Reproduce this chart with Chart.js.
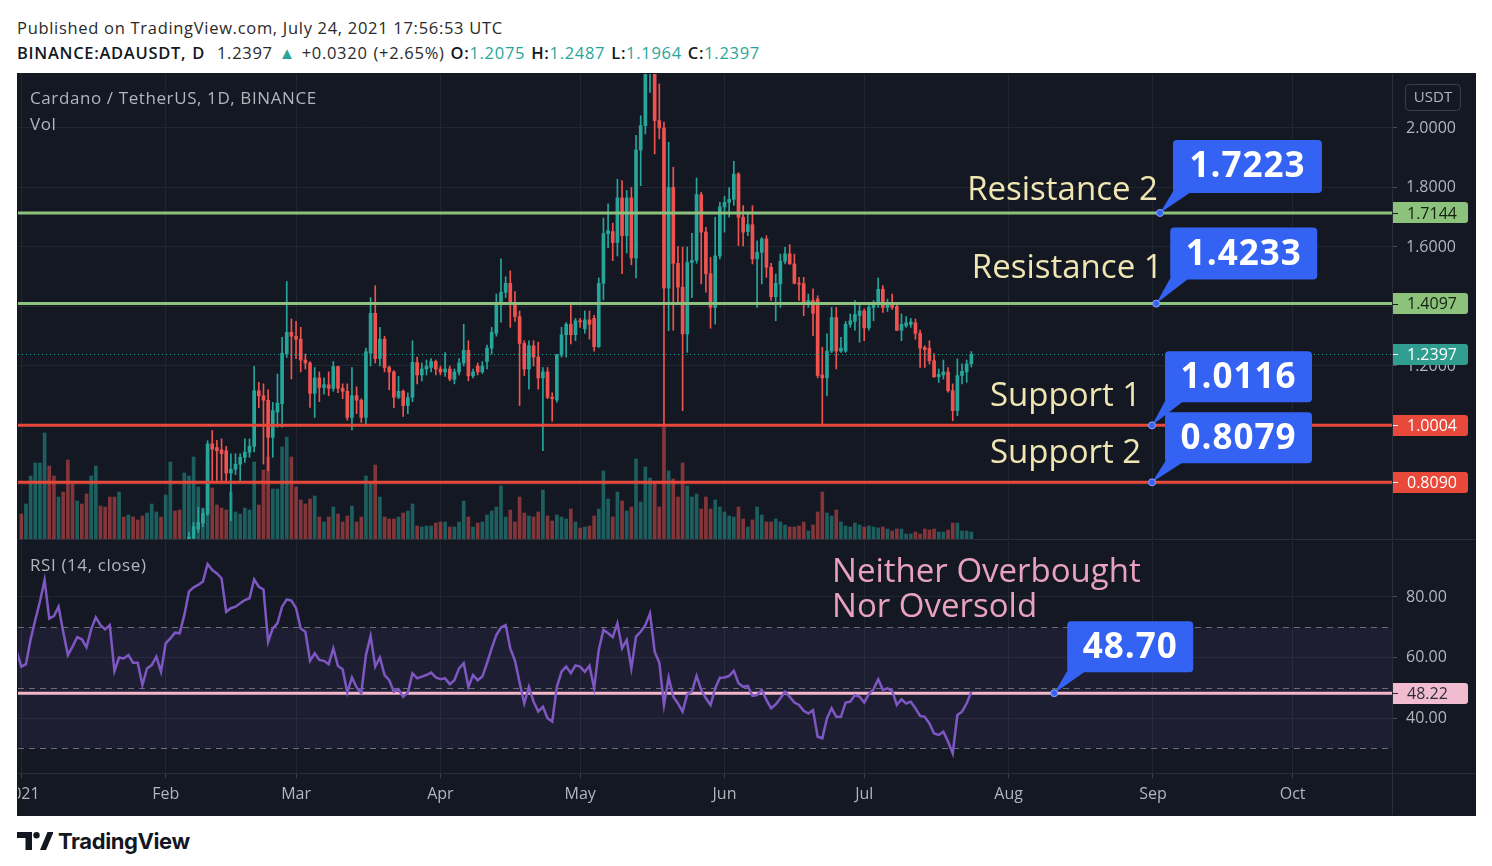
<!DOCTYPE html>
<html lang="en">
<head>
<meta charset="utf-8">
<title>BINANCE:ADAUSDT, D</title>
<script src="https://cdn.jsdelivr.net/npm/chart.js@4.4.1/dist/chart.umd.min.js"></script>
<style>
  html, body { margin: 0; padding: 0; background: #fff; }
  body { width: 1492px; height: 866px; position: relative; overflow: hidden; font-family: "Open Sans", sans-serif; }
  .head { position: absolute; left: 17px; font-size: 16.5px; letter-spacing: 0.7px; line-height: 20px; color: #2a2a2a; white-space: nowrap; }
  .head b { font-weight: 600; color: #131722; }
  .head .g { color: #26a69a; }
  #pane { position: absolute; left: 17px; top: 73px; width: 1459px; height: 743px; background: #141823; }
  #pane canvas { position: absolute; left: 1px; }
  #main { top: 1px; width: 1457px; height: 466px; }
  #rsi { top: 468px; width: 1457px; height: 274px; }
  .tag { position: absolute; left: 13px; color: #b2b5be; font-size: 17px; letter-spacing: 0.6px; line-height: 20px; white-space: nowrap; }
  #logo { position: absolute; left: 17px; top: 828px; height: 26px; display: flex; align-items: center; gap: 5px;
          font-family: Inter, sans-serif; font-weight: 700; font-size: 22px; color: #131722; letter-spacing: -0.4px; }
</style>
</head>
<body>
<div class="head" style="top:18px">Published on TradingView.com, July 24, 2021 17:56:53 UTC</div>
<div class="head" style="top:43px; word-spacing: 1px"><b>BINANCE:ADAUSDT, D</b>&nbsp; 1.2397 <span class="g">▲</span> +0.0320 (+2.65%) <b>O:</b><span class="g">1.2075</span> <b>H:</b><span class="g">1.2487</span> <b>L:</b><span class="g">1.1964</span> <b>C:</b><span class="g">1.2397</span></div>

<div id="pane">
  <canvas id="main" width="1457" height="466"></canvas>
  <canvas id="rsi" width="1457" height="274"></canvas>
  <div class="tag" style="top:15px">Cardano / TetherUS, 1D, BINANCE</div>
  <div class="tag" style="top:41px">Vol</div>
  <div class="tag" style="top:482px">RSI (14, close)</div>
</div>

<div id="logo">
  <svg width="36" height="20" viewBox="0 0 36 20"><path d="M0 1h15v18H8.5V7H0z" fill="#131722"/><circle cx="19.5" cy="4.2" r="3.2" fill="#131722"/><path d="M23 19l7.5-18h6L29 19z" fill="#131722"/></svg>
  <span>TradingView</span>
</div>

<script>
// ---- data (day 0 = 1 Jan 2021) ----
const candleStart = 36;   // candles before 5 Feb sit below the visible price range

const open = [
  0.600, 0.622, 0.652, 0.672, 0.703, 0.938, 0.926, 0.918, 0.915, 0.840,
  0.853, 0.870, 0.893, 0.910, 0.930, 1.117, 1.100, 1.085, 0.960, 1.045,
  1.073, 1.240, 1.313, 1.300, 1.290, 1.220, 1.210, 1.108, 1.160, 1.128,
  1.137, 1.125, 1.198, 1.125, 1.115, 1.027, 1.100, 1.085, 1.027, 1.243,
  1.377, 1.225, 1.290, 1.195, 1.180, 1.095, 1.115, 1.067, 1.095, 1.212,
  1.170, 1.190, 1.195, 1.215, 1.190, 1.180, 1.190, 1.155, 1.180, 1.210,
  1.253, 1.167, 1.200, 1.180, 1.215, 1.260, 1.310, 1.410, 1.448, 1.478,
  1.410, 1.366, 1.276, 1.190, 1.268, 1.230, 1.160, 1.180, 1.095, 1.086,
  1.237, 1.305, 1.340, 1.305, 1.352, 1.325, 1.355, 1.360, 1.265, 1.478,
  1.645, 1.652, 1.615, 1.765, 1.638, 1.765, 1.563, 1.926, 2.008, 2.210,
  2.300, 2.025, 2.000, 1.462, 1.800, 1.545, 1.465, 1.308, 1.548, 1.555,
  1.776, 1.650, 1.510, 1.397, 1.570, 1.735, 1.750, 1.760, 1.845, 1.700,
  1.652, 1.675, 1.560, 1.582, 1.627, 1.532, 1.433, 1.476, 1.552, 1.577,
  1.543, 1.478, 1.477, 1.410, 1.420, 1.425, 1.170, 1.160, 1.250, 1.363,
  1.250, 1.250, 1.340, 1.350, 1.370, 1.385, 1.328, 1.397, 1.410, 1.458,
  1.397, 1.410, 1.400, 1.320, 1.335, 1.340, 1.345, 1.310, 1.262, 1.260,
  1.218, 1.164, 1.170, 1.180, 1.117, 1.050, 1.168, 1.180, 1.2075
];
const high = [
  0.640, 0.674, 0.725, 0.720, 0.949, 0.983, 0.950, 0.955, 0.930, 0.905,
  0.905, 0.905, 0.955, 0.955, 1.199, 1.145, 1.140, 1.120, 1.078, 1.173,
  1.296, 1.484, 1.358, 1.350, 1.330, 1.240, 1.215, 1.195, 1.180, 1.160,
  1.180, 1.215, 1.200, 1.140, 1.140, 1.195, 1.130, 1.090, 1.260, 1.430,
  1.470, 1.330, 1.300, 1.200, 1.185, 1.165, 1.120, 1.110, 1.285, 1.230,
  1.210, 1.220, 1.225, 1.220, 1.200, 1.245, 1.200, 1.190, 1.225, 1.340,
  1.285, 1.190, 1.210, 1.215, 1.270, 1.330, 1.442, 1.560, 1.500, 1.520,
  1.450, 1.385, 1.285, 1.285, 1.285, 1.280, 1.195, 1.195, 1.110, 1.238,
  1.330, 1.346, 1.408, 1.360, 1.360, 1.385, 1.385, 1.370, 1.496, 1.697,
  1.745, 1.680, 1.828, 1.823, 1.790, 1.800, 1.975, 2.041, 2.260, 2.470,
  2.380, 2.148, 2.020, 1.952, 1.868, 1.601, 1.600, 1.600, 1.646, 1.832,
  1.784, 1.666, 1.565, 1.700, 1.750, 1.770, 1.800, 1.888, 1.850, 1.739,
  1.711, 1.739, 1.621, 1.632, 1.638, 1.545, 1.509, 1.576, 1.599, 1.608,
  1.576, 1.498, 1.498, 1.442, 1.459, 1.436, 1.263, 1.308, 1.397, 1.397,
  1.296, 1.350, 1.375, 1.420, 1.408, 1.392, 1.408, 1.420, 1.496, 1.470,
  1.425, 1.442, 1.408, 1.375, 1.366, 1.360, 1.358, 1.321, 1.268, 1.285,
  1.242, 1.190, 1.220, 1.195, 1.140, 1.224, 1.207, 1.220, 1.2487
];
const low = [
  0.585, 0.615, 0.641, 0.660, 0.697, 0.815, 0.815, 0.815, 0.810, 0.680,
  0.835, 0.815, 0.876, 0.893, 0.911, 1.060, 0.870, 0.848, 0.893, 0.994,
  0.994, 1.229, 1.156, 1.225, 1.180, 1.190, 1.061, 1.027, 1.080, 1.105,
  1.100, 1.115, 1.110, 1.090, 1.018, 0.985, 1.040, 1.010, 1.000, 1.200,
  1.210, 1.200, 1.180, 1.120, 1.060, 1.090, 1.030, 1.040, 1.080, 1.140,
  1.150, 1.170, 1.180, 1.170, 1.170, 1.165, 1.150, 1.140, 1.170, 1.200,
  1.150, 1.160, 1.170, 1.175, 1.190, 1.240, 1.300, 1.347, 1.430, 1.330,
  1.350, 1.067, 1.168, 1.122, 1.200, 1.122, 0.915, 1.090, 1.014, 1.078,
  1.230, 1.230, 1.274, 1.285, 1.330, 1.310, 1.290, 1.250, 1.262, 1.422,
  1.598, 1.554, 1.570, 1.510, 1.580, 1.540, 1.496, 1.806, 1.980, 2.120,
  1.913, 1.963, 1.000, 1.319, 1.320, 1.408, 1.050, 1.246, 1.430, 1.545,
  1.476, 1.448, 1.327, 1.341, 1.560, 1.650, 1.700, 1.740, 1.605, 1.604,
  1.638, 1.543, 1.397, 1.476, 1.498, 1.420, 1.352, 1.397, 1.543, 1.542,
  1.476, 1.420, 1.369, 1.397, 1.302, 1.160, 1.000, 1.100, 1.245, 1.190,
  1.246, 1.246, 1.330, 1.320, 1.280, 1.285, 1.320, 1.352, 1.397, 1.380,
  1.383, 1.390, 1.319, 1.285, 1.330, 1.330, 1.290, 1.195, 1.195, 1.207,
  1.162, 1.145, 1.156, 1.112, 1.016, 1.033, 1.140, 1.145, 1.1964
];
const close = [
  0.625, 0.660, 0.674, 0.705, 0.938, 0.920, 0.915, 0.905, 0.840, 0.853,
  0.870, 0.893, 0.910, 0.930, 1.117, 1.100, 1.085, 0.960, 1.050, 1.075,
  1.243, 1.313, 1.300, 1.290, 1.220, 1.210, 1.108, 1.160, 1.128, 1.137,
  1.125, 1.198, 1.125, 1.115, 1.027, 1.100, 1.085, 1.027, 1.248, 1.377,
  1.225, 1.290, 1.195, 1.180, 1.095, 1.115, 1.067, 1.094, 1.212, 1.170,
  1.190, 1.200, 1.215, 1.190, 1.180, 1.190, 1.156, 1.180, 1.210, 1.253,
  1.167, 1.180, 1.180, 1.200, 1.260, 1.313, 1.410, 1.448, 1.478, 1.410,
  1.366, 1.276, 1.190, 1.268, 1.230, 1.160, 1.180, 1.095, 1.090, 1.238,
  1.305, 1.340, 1.305, 1.352, 1.348, 1.355, 1.340, 1.265, 1.478, 1.645,
  1.655, 1.615, 1.765, 1.638, 1.765, 1.563, 1.926, 2.008, 2.210, 2.300,
  2.025, 2.000, 1.462, 1.800, 1.545, 1.465, 1.308, 1.548, 1.555, 1.776,
  1.650, 1.510, 1.397, 1.570, 1.735, 1.750, 1.760, 1.845, 1.700, 1.650,
  1.675, 1.560, 1.582, 1.627, 1.532, 1.433, 1.478, 1.552, 1.577, 1.543,
  1.478, 1.475, 1.410, 1.420, 1.377, 1.168, 1.160, 1.250, 1.363, 1.250,
  1.260, 1.340, 1.352, 1.373, 1.385, 1.328, 1.397, 1.410, 1.458, 1.397,
  1.410, 1.397, 1.320, 1.340, 1.345, 1.348, 1.310, 1.260, 1.255, 1.218,
  1.164, 1.172, 1.180, 1.117, 1.050, 1.168, 1.182, 1.207, 1.2397
];

// daily volume, millions of ADA, from 1 Jan
const volume = [
  520, 720, 1280, 1540, 1540, 2140, 1480, 1280, 860, 960,
  1600, 1120, 780, 720, 920, 1280, 1480, 680, 660, 860,
  860, 960, 460, 500, 460, 400, 480, 540, 720, 560,
  460, 900, 1560, 580, 600, 1340, 1280, 1660, 1060, 640,
  1600, 1040, 700, 640, 600, 960, 560, 520, 640, 600,
  1560, 700, 1400, 1660, 1020, 1020, 1860, 2060, 1660, 1060,
  800, 720, 820, 880, 460, 360, 460, 660, 520, 360,
  480, 680, 360, 460, 1280, 1160, 1500, 860, 460, 420,
  420, 460, 540, 580, 720, 280, 260, 280, 280, 340,
  360, 360, 260, 260, 360, 780, 460, 260, 340, 360,
  500, 580, 660, 1080, 460, 600, 360, 860, 540, 480,
  460, 560, 1000, 480, 380, 500, 460, 420, 620, 360,
  240, 260, 280, 480, 620, 1380, 820, 460, 960, 780,
  580, 660, 1620, 760, 1460, 1240, 1160, 660, 2260, 1380,
  1220, 860, 1540, 1080, 860, 920, 620, 860, 620, 800,
  660, 560, 480, 460, 660, 420, 260, 400, 660, 500,
  360, 360, 420, 360, 300, 260, 260, 280, 360, 180,
  300, 560, 960, 540, 480, 600, 360, 280, 260, 340,
  300, 260, 280, 260, 240, 260, 220, 180, 220, 220,
  120, 120, 160, 120, 220, 200, 220, 160, 160, 200,
  340, 340, 180, 180, 160
];
// up (1) / down (0) colour of the January volume bars, whose candles are off-scale
const earlyVolUp = [
  0, 1, 1, 1, 1, 1, 0, 0, 1, 0, 0, 0, 1, 0, 0, 1, 1, 0,
  0, 0, 0, 1, 0, 1, 0, 0, 0, 1, 1, 1, 0, 1, 1, 0, 0, 1
];

// RSI(14, close), starting 31 Dec 2020
const rsiStart = -1;
const rsi = [
  62.0, 57.0, 57.8, 66.0, 72.4, 78.5, 85.6, 72.9, 73.7, 76.8,
  68.5, 60.8, 63.6, 66.7, 66.0, 63.4, 69.3, 73.3, 70.7, 69.3,
  70.7, 55.5, 60.0, 59.7, 60.8, 58.3, 58.3, 50.9, 56.4, 57.5,
  60.3, 55.3, 64.7, 66.3, 68.2, 68.0, 74.0, 81.8, 83.2, 84.0,
  85.1, 90.9, 88.9, 87.8, 86.2, 75.1, 76.3, 76.8, 77.9, 79.0,
  79.6, 85.8, 83.4, 82.5, 65.2, 69.6, 71.3, 76.8, 79.2, 78.8,
  76.3, 69.6, 68.5, 58.9, 61.4, 59.2, 58.9, 57.8, 63.0, 57.2,
  56.1, 48.4, 53.4, 50.1, 48.2, 60.8, 67.1, 57.0, 60.0, 54.2,
  52.5, 48.7, 49.5, 47.0, 48.4, 54.8, 53.1, 53.7, 54.2, 55.0,
  53.4, 52.8, 53.1, 51.2, 52.5, 56.4, 58.1, 50.3, 54.2, 52.5,
  53.7, 58.1, 63.0, 67.4, 69.9, 70.7, 63.0, 59.0, 51.7, 44.8,
  50.3, 45.4, 42.1, 43.7, 39.9, 38.8, 50.3, 55.3, 57.0, 54.8,
  57.4, 57.0, 55.3, 57.3, 49.8, 62.5, 69.1, 68.0, 66.7, 71.3,
  63.0, 65.8, 56.4, 66.9, 68.5, 70.7, 74.6, 61.9, 58.3, 44.3,
  53.4, 47.0, 44.8, 42.1, 47.9, 48.7, 53.9, 49.3, 46.5, 44.3,
  49.8, 53.3, 53.4, 53.9, 55.6, 51.5, 50.3, 50.6, 47.3, 47.6,
  49.3, 46.0, 43.2, 44.5, 46.5, 48.7, 47.0, 45.1, 44.3, 42.4,
  41.5, 42.6, 33.8, 33.3, 39.9, 43.2, 40.4, 40.4, 45.1, 45.4,
  47.6, 47.0, 45.1, 47.9, 49.5, 52.8, 49.3, 49.8, 49.0, 44.3,
  46.2, 44.8, 45.4, 43.2, 40.7, 40.4, 38.2, 34.9, 34.4, 35.5,
  32.2, 28.3, 41.0, 42.1, 44.8, 48.7
];

const monthLabels = ['2021', 'Feb', 'Mar', 'Apr', 'May', 'Jun', 'Jul', 'Aug', 'Sep', 'Oct'];
const priceTicks = [0.8, 1.0, 1.2, 1.4, 1.6, 1.8, 2.0];
const rsiTicks = [40, 60, 80];
const rsiGuides = [30, 50, 70];

// horizontal drawings on the chart
const priceLevels = [
  { value: 1.7144, color: '#8cc27b', ink: '#14200f' },
  { value: 1.4097, color: '#8cc27b', ink: '#14200f' },
  { value: 1.0004, color: '#e8493b', ink: '#ffffff' },
  { value: 0.8090, color: '#e8493b', ink: '#ffffff' }
];
const rsiLevel = 48.22;

// annotation callouts: anchor (day, value) + text
const priceCallouts = [
  { text: '1.7223', day: 244.5, value: 1.7144, dx: 13, dy: -73, w: 149, h: 53 },
  { text: '1.4233', day: 243.7, value: 1.4097, dx: 14, dy: -76, w: 147, h: 52 },
  { text: '1.0116', day: 242.8, value: 1.0004, dx: 13, dy: -74, w: 147, h: 51 },
  { text: '0.8079', day: 242.8, value: 0.8090, dx: 13, dy: -70, w: 147, h: 51 }
];
const priceNotes = [
  { text: 'Resistance 2', day: 203.1, value: 1.758 },
  { text: 'Resistance 1', day: 204.1, value: 1.496 },
  { text: 'Support 1', day: 208.0, value: 1.066 },
  { text: 'Support 2', day: 208.0, value: 0.874 }
];
const rsiCallout = { text: '48.70', day: 221.8, value: 48.22, dx: 13, dy: -72, w: 126, h: 51 };
const rsiNotes = [
  { text: 'Neither Overbought', day: 174.1, value: 84.9 },
  { text: 'Nor Oversold', day: 174.1, value: 73.4 }
];

// ---- look ----
const FONT = '"Open Sans", sans-serif';
const UP = '#26a69a', DOWN = '#ef5350';
const UP_VOL = 'rgba(38,166,154,0.5)', DOWN_VOL = 'rgba(239,83,80,0.5)';
const GRID = '#222631';
const AXIS_TXT = '#b2b5be';
const SEP = '#2a2e39';
const BLUE = '#3463f3';

// visible window as framed in the screenshot
const X_MIN = -0.71, X_MAX = 294.33;
const P_MIN = 0.6151, P_MAX = 2.1815;
const R_MIN = 21.82, R_MAX = 98.51;
const VOL_MAX = 9320;

Chart.defaults.font.family = FONT;

const dayOf = m => (Date.UTC(2021, m, 1) - Date.UTC(2021, 0, 1)) / 86400000;
const monthTicks = monthLabels.map((_, i) => dayOf(i));

// build datasets
const wickData = [], bodyData = [], candleColors = [];
open.forEach((o, i) => {
  const d = candleStart + i;
  wickData.push({ x: d, y: [low[i], high[i]] });
  bodyData.push({ x: d, y: [o, close[i]] });
  candleColors.push(close[i] >= o ? UP : DOWN);
});
const volData = volume.map((v, d) => ({ x: d, y: v }));
const volColors = volume.map((v, d) => {
  const up = d < candleStart ? earlyVolUp[d] === 1 : close[d - candleStart] >= open[d - candleStart];
  return up ? UP_VOL : DOWN_VOL;
});
const rsiData = rsi.map((v, i) => ({ x: rsiStart + i, y: v }));
const lastClose = close[close.length - 1];

// ---- drawing helpers ----
function hLine(ctx, area, y, color, width, dash) {
  ctx.save();
  ctx.beginPath();
  ctx.rect(area.left, area.top, area.right - area.left, area.bottom - area.top);
  ctx.clip();
  ctx.strokeStyle = color;
  ctx.lineWidth = width;
  ctx.setLineDash(dash || []);
  ctx.beginPath();
  ctx.moveTo(area.left, y);
  ctx.lineTo(area.right, y);
  ctx.stroke();
  ctx.restore();
}

function axisTag(ctx, area, y, text, bg, ink) {
  const x = area.right + 1, w = 75, h = 21;
  ctx.save();
  ctx.fillStyle = bg;
  ctx.beginPath();
  ctx.roundRect(x, Math.round(y - h / 2), w, h, [0, 3, 3, 0]);
  ctx.fill();
  ctx.fillStyle = ink;
  ctx.fillRect(x, Math.round(y), 5, 1);
  ctx.font = '16px ' + FONT;
  ctx.textAlign = 'left';
  ctx.textBaseline = 'middle';
  ctx.fillText(text, x + 14, y + 1);
  ctx.restore();
}

function callout(ctx, ax, ay, c) {
  const bx = ax + c.dx, by = ay + c.dy;
  ctx.save();
  ctx.fillStyle = BLUE;
  ctx.beginPath();
  ctx.moveTo(ax, ay);
  ctx.lineTo(bx + 1, by + c.h - 3);
  ctx.lineTo(bx + 21, by + c.h - 3);
  ctx.closePath();
  ctx.fill();
  ctx.beginPath();
  ctx.roundRect(bx, by, c.w, c.h, 4);
  ctx.fill();
  ctx.beginPath();
  ctx.arc(ax, ay, 3.5, 0, Math.PI * 2);
  ctx.fill();
  ctx.strokeStyle = '#8ea6ff';
  ctx.lineWidth = 1;
  ctx.stroke();
  ctx.fillStyle = '#ffffff';
  ctx.font = 'bold 35px ' + FONT;
  ctx.letterSpacing = '1px';
  ctx.textAlign = 'center';
  ctx.textBaseline = 'middle';
  ctx.fillText(c.text, bx + c.w / 2, by + c.h / 2 + 1);
  ctx.restore();
}

function note(ctx, x, y, text, color, size) {
  ctx.save();
  ctx.font = size + 'px ' + FONT;
  ctx.fillStyle = color;
  ctx.textAlign = 'left';
  ctx.textBaseline = 'alphabetic';
  ctx.fillText(text, x, y);
  ctx.restore();
}

const fixY = w => s => { s.width = w; s.paddingTop = 0; s.paddingBottom = 0; };
const fixX = h => s => { s.height = h; s.paddingLeft = 0; s.paddingRight = 0; };

// ---- price pane overlay ----
const priceOverlay = {
  id: 'priceOverlay',
  afterDraw(chart) {
    const { ctx, chartArea: area, scales: { x, y } } = chart;
    ctx.save();
    ctx.fillStyle = SEP;
    ctx.fillRect(0, area.bottom - 1, chart.width, 1);
    ctx.restore();

    hLine(ctx, area, Math.round(y.getPixelForValue(lastClose)) + 0.5, UP, 1, [1, 3]);
    priceLevels.forEach(l => hLine(ctx, area, y.getPixelForValue(l.value), l.color, 3));

    priceLevels.forEach(l => axisTag(ctx, area, y.getPixelForValue(l.value), l.value.toFixed(4), l.color, l.ink));
    axisTag(ctx, area, y.getPixelForValue(lastClose), lastClose.toFixed(4), '#2f9d8f', '#ffffff');

    priceNotes.forEach(n => note(ctx, x.getPixelForValue(n.day), y.getPixelForValue(n.value), n.text, '#efe6b3', 33));
    priceCallouts.forEach(c => callout(ctx, x.getPixelForValue(c.day), y.getPixelForValue(c.value), c));

    // currency badge
    ctx.save();
    ctx.strokeStyle = '#3a3e4a';
    ctx.lineWidth = 1;
    ctx.beginPath();
    ctx.roundRect(area.right + 13.5, 10.5, 55, 26, 4);
    ctx.stroke();
    ctx.fillStyle = AXIS_TXT;
    ctx.font = '15px ' + FONT;
    ctx.textAlign = 'center';
    ctx.textBaseline = 'middle';
    ctx.fillText('USDT', area.right + 41, 24);
    ctx.restore();
  }
};

// ---- RSI pane overlay ----
const rsiOverlay = {
  id: 'rsiOverlay',
  beforeDatasetsDraw(chart) {
    const { ctx, chartArea: area, scales: { y } } = chart;
    const yTop = y.getPixelForValue(70), yBot = y.getPixelForValue(30);
    ctx.save();
    ctx.fillStyle = 'rgba(126,87,194,0.1)';
    ctx.fillRect(area.left, yTop, area.right - area.left, yBot - yTop);
    ctx.restore();
    rsiGuides.forEach(v => hLine(ctx, area, Math.round(y.getPixelForValue(v)) + 0.5, '#6b6e79', 1, [6, 5]));
    hLine(ctx, area, y.getPixelForValue(rsiLevel), '#f2b7cb', 3);
  },
  afterDraw(chart) {
    const { ctx, chartArea: area, scales: { x, y } } = chart;
    ctx.save();
    ctx.fillStyle = SEP;
    ctx.fillRect(0, area.bottom, chart.width, 1);
    ctx.fillRect(area.right, area.bottom, 1, chart.height - area.bottom);
    ctx.restore();
    axisTag(ctx, area, y.getPixelForValue(rsiLevel), rsiLevel.toFixed(2), '#f2bcd0', '#2a2e39');
    rsiNotes.forEach(n => note(ctx, x.getPixelForValue(n.day), y.getPixelForValue(n.value), n.text, '#e9a2bd', 33));
    callout(ctx, x.getPixelForValue(rsiCallout.day), y.getPixelForValue(rsiCallout.value), rsiCallout);
  }
};

// ---- price + volume chart ----
new Chart(document.getElementById('main'), {
  type: 'bar',
  data: {
    datasets: [
      { data: wickData, backgroundColor: candleColors, barThickness: 1, grouped: false, order: 1, yAxisID: 'y' },
      { data: bodyData, backgroundColor: candleColors, barThickness: 3, minBarLength: 1, grouped: false, order: 0, yAxisID: 'y' },
      { data: volData, backgroundColor: volColors, barThickness: 3, grouped: false, order: 2, yAxisID: 'v' }
    ]
  },
  options: {
    responsive: false,
    animation: false,
    events: [],
    layout: { padding: 0 },
    plugins: { legend: { display: false }, tooltip: { enabled: false } },
    scales: {
      x: {
        type: 'linear', min: X_MIN, max: X_MAX, offset: false,
        afterBuildTicks: s => { s.ticks = monthTicks.map(v => ({ value: v })); },
        afterFit: fixX(0),
        ticks: { display: false },
        grid: { color: GRID, drawTicks: false, offset: false },
        border: { display: false }
      },
      y: {
        type: 'linear', position: 'right', min: P_MIN, max: P_MAX,
        afterBuildTicks: s => { s.ticks = priceTicks.map(v => ({ value: v })); },
        afterFit: fixY(83),
        ticks: { color: AXIS_TXT, font: { size: 16 }, padding: 9, callback: v => v.toFixed(4) },
        grid: { color: GRID, tickLength: 5, tickColor: '#4a4d58' },
        border: { color: SEP }
      },
      v: { display: false, min: 0, max: VOL_MAX }
    }
  },
  plugins: [priceOverlay]
});

// ---- RSI chart with the time axis ----
new Chart(document.getElementById('rsi'), {
  type: 'line',
  data: {
    datasets: [
      { data: rsiData, borderColor: '#7e57c2', borderWidth: 2.5, pointRadius: 0, tension: 0, fill: false }
    ]
  },
  options: {
    responsive: false,
    animation: false,
    events: [],
    layout: { padding: 0 },
    plugins: { legend: { display: false }, tooltip: { enabled: false } },
    scales: {
      x: {
        type: 'linear', min: X_MIN, max: X_MAX, offset: false,
        afterBuildTicks: s => { s.ticks = monthTicks.map(v => ({ value: v })); },
        afterFit: fixX(42),
        ticks: {
          color: AXIS_TXT, font: { size: 16 }, padding: 7, autoSkip: false, maxRotation: 0, minRotation: 0,
          callback: v => monthLabels[monthTicks.indexOf(v)]
        },
        grid: { color: GRID, tickLength: 5, tickColor: '#3a3e4a' },
        border: { color: SEP }
      },
      y: {
        type: 'linear', position: 'right', min: R_MIN, max: R_MAX,
        afterBuildTicks: s => { s.ticks = rsiTicks.map(v => ({ value: v })); },
        afterFit: fixY(83),
        ticks: { color: AXIS_TXT, font: { size: 16 }, padding: 9, callback: v => v.toFixed(2) },
        grid: { color: GRID, tickLength: 5, tickColor: '#4a4d58' },
        border: { color: SEP }
      }
    }
  },
  plugins: [rsiOverlay]
});
</script>
</body>
</html>
